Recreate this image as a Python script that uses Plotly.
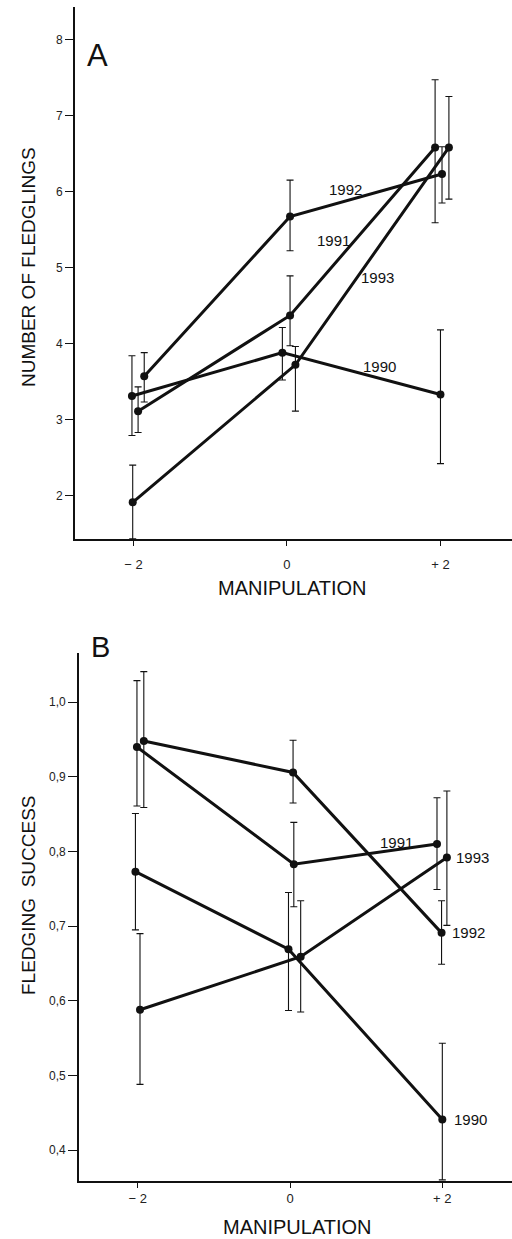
import plotly.graph_objects as go

W, H = 512, 1239
FONT = "Liberation Sans, Arial, sans-serif"

# ---------------- Panel A : number of fledglings ----------------
a_years = ["1990", "1991", "1992", "1993"]
a1990_x = [-2.02, -0.06, 2.00]
a1990_y = [3.31, 3.88, 3.33]
a1990_hi = [3.84, 4.21, 4.18]
a1990_lo = [2.79, 3.52, 2.42]

a1991_x = [-1.94, 0.04, 1.93]
a1991_y = [3.11, 4.37, 6.58]
a1991_hi = [3.43, 4.89, 7.47]
a1991_lo = [2.83, 3.97, 5.59]

a1992_x = [-1.86, 0.04, 2.02]
a1992_y = [3.57, 5.67, 6.23]
a1992_hi = [3.88, 6.15, 6.59]
a1992_lo = [3.23, 5.22, 5.85]

a1993_x = [-2.01, 0.11, 2.11]
a1993_y = [1.91, 3.72, 6.58]
a1993_hi = [2.40, 3.96, 7.25]
a1993_lo = [1.43, 3.11, 5.90]

a_label_x = [1.21, 0.60, 0.76, 1.18]
a_label_y = [3.70, 5.36, 6.03, 4.87]
a_yticks = [2, 3, 4, 5, 6, 7, 8]

# ---------------- Panel B : fledging success ----------------
b1990_x = [-2.03, -0.02, 2.00]
b1990_y = [0.773, 0.669, 0.441]
b1990_hi = [0.851, 0.745, 0.543]
b1990_lo = [0.695, 0.587, 0.360]

b1991_x = [-2.01, 0.05, 1.93]
b1991_y = [0.940, 0.783, 0.810]
b1991_hi = [1.029, 0.839, 0.872]
b1991_lo = [0.861, 0.726, 0.749]

b1992_x = [-1.92, 0.04, 1.99]
b1992_y = [0.948, 0.906, 0.691]
b1992_hi = [1.041, 0.949, 0.734]
b1992_lo = [0.859, 0.865, 0.649]

b1993_x = [-1.97, 0.14, 2.06]
b1993_y = [0.588, 0.659, 0.792]
b1993_hi = [0.690, 0.734, 0.881]
b1993_lo = [0.488, 0.585, 0.701]

b_label_x = [2.37, 1.40, 2.34, 2.40]
b_label_y = [0.441, 0.812, 0.691, 0.792]
b_yticks = [0.4, 0.5, 0.6, 0.7, 0.8, 0.9, 1.0]
b_yticktext = ["0,4", "0,5", "0,6", "0,7", "0,8", "0,9", "1,0"]

x_ticks = [-2, 0, 2]
x_ticktext = ["\u2212 2", "0", "+ 2"]

INK = "#111111"

fig = go.Figure()


def add_series(x, y, hi, lo, xa, ya):
    plus = [h - m for h, m in zip(hi, y)]
    minus = [m - l for m, l in zip(y, lo)]
    fig.add_trace(go.Scatter(
        x=x, y=y, xaxis=xa, yaxis=ya, mode="lines+markers",
        line=dict(color=INK, width=3),
        marker=dict(color=INK, size=8),
        error_y=dict(type="data", symmetric=False, array=plus, arrayminus=minus,
                     color=INK, thickness=1.1, width=3.5),
        showlegend=False, hoverinfo="skip"))


add_series(a1990_x, a1990_y, a1990_hi, a1990_lo, "x", "y")
add_series(a1991_x, a1991_y, a1991_hi, a1991_lo, "x", "y")
add_series(a1992_x, a1992_y, a1992_hi, a1992_lo, "x", "y")
add_series(a1993_x, a1993_y, a1993_hi, a1993_lo, "x", "y")

add_series(b1990_x, b1990_y, b1990_hi, b1990_lo, "x2", "y2")
add_series(b1991_x, b1991_y, b1991_hi, b1991_lo, "x2", "y2")
add_series(b1992_x, b1992_y, b1992_hi, b1992_lo, "x2", "y2")
add_series(b1993_x, b1993_y, b1993_hi, b1993_lo, "x2", "y2")


def px(v):
    return v / W


def py(v):
    return 1 - v / H


axis_common = dict(showline=True, linecolor=INK, linewidth=1.6, showgrid=False,
                   zeroline=False, ticks="outside", tickcolor=INK, tickwidth=1.1,
                   fixedrange=True)
ytickfont = dict(family=FONT, size=12, color="#222222")
xtickfont = dict(family=FONT, size=13, color="#222222")

fig.update_layout(
    width=W, height=H,
    margin=dict(l=0, r=0, t=0, b=0),
    paper_bgcolor="white", plot_bgcolor="white",
    font=dict(family=FONT, color=INK),
    xaxis=dict(domain=[px(75), 1.0], range=[-2.762, 2.932], anchor="y",
               tickvals=x_ticks, ticktext=x_ticktext, ticklen=5,
               ticklabelstandoff=8, tickfont=xtickfont, **axis_common),
    yaxis=dict(domain=[py(539), py(7)], range=[1.428, 8.428], anchor="x",
               tickvals=a_yticks, ticklen=8, tickfont=ytickfont, **axis_common),
    xaxis2=dict(domain=[px(79), 1.0], range=[-2.771, 2.915], anchor="y2",
                tickvals=x_ticks, ticktext=x_ticktext, ticklen=5,
                ticklabelstandoff=0, tickfont=xtickfont, **axis_common),
    yaxis2=dict(domain=[py(1181), py(653)], range=[0.3585, 1.066], anchor="x2",
                tickvals=b_yticks, ticktext=b_yticktext, ticklen=9,
                tickfont=ytickfont, **axis_common),
)

ann = []
# year labels
for yr, lx, ly in zip(a_years, a_label_x, a_label_y):
    ann.append(dict(x=lx, y=ly, xref="x", yref="y", text=yr, showarrow=False,
                    font=dict(family=FONT, size=15, color=INK),
                    xanchor="center", yanchor="middle"))
for yr, lx, ly in zip(a_years, b_label_x, b_label_y):
    ann.append(dict(x=lx, y=ly, xref="x2", yref="y2", text=yr, showarrow=False,
                    font=dict(family=FONT, size=15, color=INK),
                    xanchor="center", yanchor="middle"))

# panel letters
ann.append(dict(x=px(97), y=py(55), xref="paper", yref="paper", text="A",
                showarrow=False, font=dict(family=FONT, size=31, color=INK),
                xanchor="center", yanchor="middle"))
ann.append(dict(x=px(100), y=py(647), xref="paper", yref="paper", text="B",
                showarrow=False, font=dict(family=FONT, size=29, color=INK),
                xanchor="center", yanchor="middle"))

# axis titles
ann.append(dict(x=px(28), y=py(267), xref="paper", yref="paper",
                text="NUMBER OF FLEDGLINGS", textangle=-90, showarrow=False,
                font=dict(family=FONT, size=19, color=INK),
                xanchor="center", yanchor="middle"))
ann.append(dict(x=px(28), y=py(895), xref="paper", yref="paper",
                text="FLEDGING&nbsp;&nbsp;SUCCESS", textangle=-90, showarrow=False,
                font=dict(family=FONT, size=19, color=INK),
                xanchor="center", yanchor="middle"))
ann.append(dict(x=px(292), y=py(588), xref="paper", yref="paper",
                text="MANIPULATION", showarrow=False,
                font=dict(family=FONT, size=20, color=INK),
                xanchor="center", yanchor="middle"))
ann.append(dict(x=px(297), y=py(1227), xref="paper", yref="paper",
                text="MANIPULATION", showarrow=False,
                font=dict(family=FONT, size=20, color=INK),
                xanchor="center", yanchor="middle"))

fig.update_layout(annotations=ann)

fig.write_html("out.html", config={"displayModeBar": False},
               post_script="document.body.style.margin='0';document.body.style.overflow='hidden';")
